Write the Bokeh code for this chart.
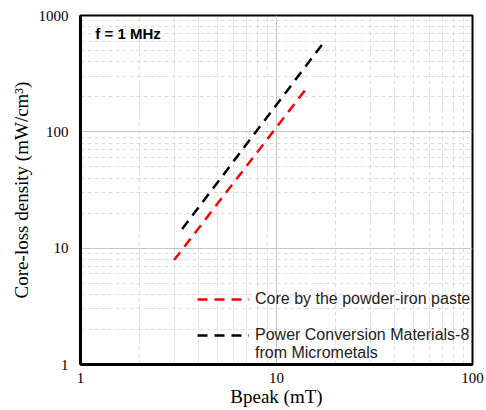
from bokeh.plotting import figure
from bokeh.models import FixedTicker, PrintfTickFormatter, Label, Legend, LegendItem
from bokeh.embed import file_html
from bokeh.resources import INLINE

# Data (log-log straight lines)
paste_b = [3.0, 14.1]
paste_loss = [7.9, 232]
pcm8_b = [3.3, 17.6]
pcm8_loss = [14.6, 600]

x_major = [1, 10, 100]
x_minor = [m * d for d in (1, 10) for m in range(2, 10)]
y_major = [1, 10, 100, 1000]
y_minor = [m * d for d in (1, 10, 100) for m in range(2, 10)]

label_paste = "Core by the powder-iron paste"
label_pcm8_1 = "Power Conversion Materials-8"
label_pcm8_2 = "from Micrometals"
freq_text = "f = 1 MHz"

serif = "Liberation Serif"
sans = "Liberation Sans"

p = figure(width=486, height=410, x_axis_type="log", y_axis_type="log",
           x_range=(1, 100), y_range=(1, 1000),
           output_backend="svg", toolbar_location=None,
           min_border_left=80, min_border_right=14, min_border_top=15, min_border_bottom=46)

xt = FixedTicker(ticks=x_major, minor_ticks=x_minor)
yt = FixedTicker(ticks=y_major, minor_ticks=y_minor)
p.xaxis.ticker = xt
p.yaxis.ticker = yt
p.xgrid.ticker = xt
p.ygrid.ticker = yt

for g in (p.xgrid, p.ygrid):
    g.grid_line_color = "#c6c6c6"
    g.grid_line_width = 1
    g.minor_grid_line_color = "#dcdcdc"
    g.minor_grid_line_dash = "4 3"
    g.minor_grid_line_width = 1

for ax in (p.xaxis, p.yaxis):
    ax.formatter = PrintfTickFormatter(format="%d")
    ax.major_tick_in = 0
    ax.major_tick_out = 0
    ax.minor_tick_in = 0
    ax.minor_tick_out = 0
    ax.axis_line_color = "black"
    ax.axis_line_width = 3
    ax.major_label_text_font = serif
    ax.major_label_text_font_size = "15px"
    ax.major_label_text_color = "black"
    ax.axis_label_text_font = serif
    ax.axis_label_text_font_size = "19px"
    ax.axis_label_text_font_style = "normal"
    ax.axis_label_text_color = "black"

p.xaxis.axis_label = "Bpeak (mT)"
p.yaxis.axis_label = "Core-loss density (mW/cm³)"
p.xaxis.major_label_standoff = 8
p.yaxis.major_label_standoff = 12
p.xaxis.axis_label_standoff = 0
p.yaxis.axis_label_standoff = 4

p.outline_line_color = "black"
p.outline_line_width = 2
p.outline_line_alpha = 1

r1 = p.line(paste_b, paste_loss, line_color="#ff0000", line_width=2.5, line_dash="10 7")
r2 = p.line(pcm8_b, pcm8_loss, line_color="black", line_width=2.5, line_dash="10 7")
# invisible renderer used only for the blank / continuation legend rows
r_blank = p.line(pcm8_b, pcm8_loss, line_alpha=0)

legend = Legend(items=[LegendItem(label=label_paste, renderers=[r1]),
                       LegendItem(label=" ", renderers=[r_blank]),
                       LegendItem(label=label_pcm8_1, renderers=[r2]),
                       LegendItem(label=label_pcm8_2, renderers=[r_blank])],
                location=(117, 2), orientation="vertical")
legend.border_line_color = None
legend.background_fill_alpha = 0
legend.label_text_font = sans
legend.label_text_font_size = "16px"
legend.label_text_color = "#222222"
legend.label_height = 18
legend.glyph_width = 52
legend.glyph_height = 18
legend.label_standoff = 6
legend.spacing = 0
legend.padding = 0
legend.margin = 0
p.add_layout(legend, "center")

p.add_layout(Label(x=1.19, y=700, text=freq_text, text_font=sans, text_font_style="bold",
                   text_font_size="15px", text_color="black", text_baseline="middle"))

open("out.html", "w").write(file_html(p, INLINE))
